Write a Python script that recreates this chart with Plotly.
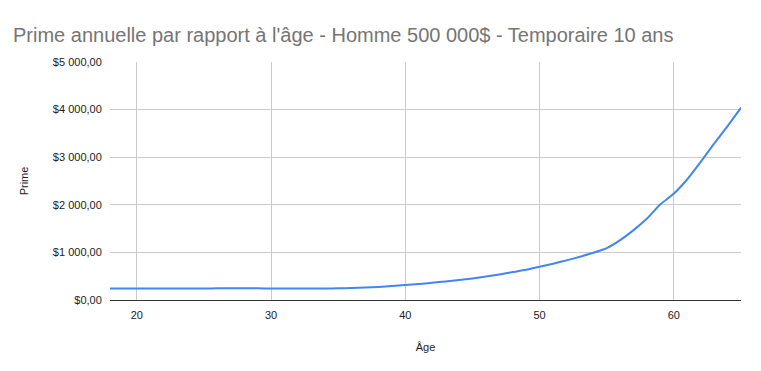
import plotly.graph_objects as go

ages = list(range(18, 66))
premiums = [240, 240, 240, 240, 240, 240, 240, 240,      # 18-25
            245, 245, 245, 245,                          # 26-29
            242, 242, 242, 243, 244, 245,                # 30-35
            252, 262, 275, 292, 314,                     # 36-40
            335, 363, 391, 419, 454, 496, 538, 587, 636, 699,   # 41-50
            762, 832, 908, 992, 1090,                    # 51-55
            1258, 1468, 1712, 2012, 2236,                # 56-60
            2537, 2900, 3285, 3655, 4040]                # 61-65

title_text = "Prime annuelle par rapport à l'âge - Homme 500 000$ - Temporaire 10 ans"
x_title = "Âge"
y_title = "Prime"
x_ticks = [20, 30, 40, 50, 60]
y_ticks = [0, 1000, 2000, 3000, 4000, 5000]
y_tick_labels = ["$0,00", "$1 000,00", "$2 000,00", "$3 000,00", "$4 000,00", "$5 000,00"]

fig = go.Figure()
fig.add_trace(go.Scatter(
    x=ages, y=premiums, mode="lines",
    line=dict(color="#4285F4", width=2, shape="spline", smoothing=0.6),
    hoverinfo="x+y", showlegend=False,
))

fig.update_layout(
    width=761, height=371,
    margin=dict(l=110, r=20, t=62, b=71),
    paper_bgcolor="white", plot_bgcolor="white",
    font=dict(family="Arial, Liberation Sans, sans-serif", size=11, color="#444444"),
    title=dict(text=title_text, x=13/761, xref="container", xanchor="left", y=0.925, yref="container",
               font=dict(family="Arial, Liberation Sans, sans-serif", size=20, color="#757575")),
    xaxis=dict(range=[18, 65], tickvals=x_ticks, showgrid=True, gridcolor="#cccccc", gridwidth=1,
               zeroline=False, showline=False, ticks="outside", ticklen=5, tickcolor="rgba(0,0,0,0)",
               title=dict(text=x_title, standoff=23, font=dict(size=11, color="#222222")),
               tickfont=dict(size=11, color="#222222")),
    yaxis=dict(range=[0, 5000], tickvals=y_ticks, ticktext=y_tick_labels,
               showgrid=True, gridcolor="#cccccc", gridwidth=1,
               zeroline=True, zerolinecolor="#333333", zerolinewidth=1, showline=False,
               ticks="outside", ticklen=5, tickcolor="rgba(0,0,0,0)",
               title=dict(text=y_title, standoff=22, font=dict(size=11, color="#222222")),
               tickfont=dict(size=11, color="#222222")),
)

fig.write_html("out.html")
